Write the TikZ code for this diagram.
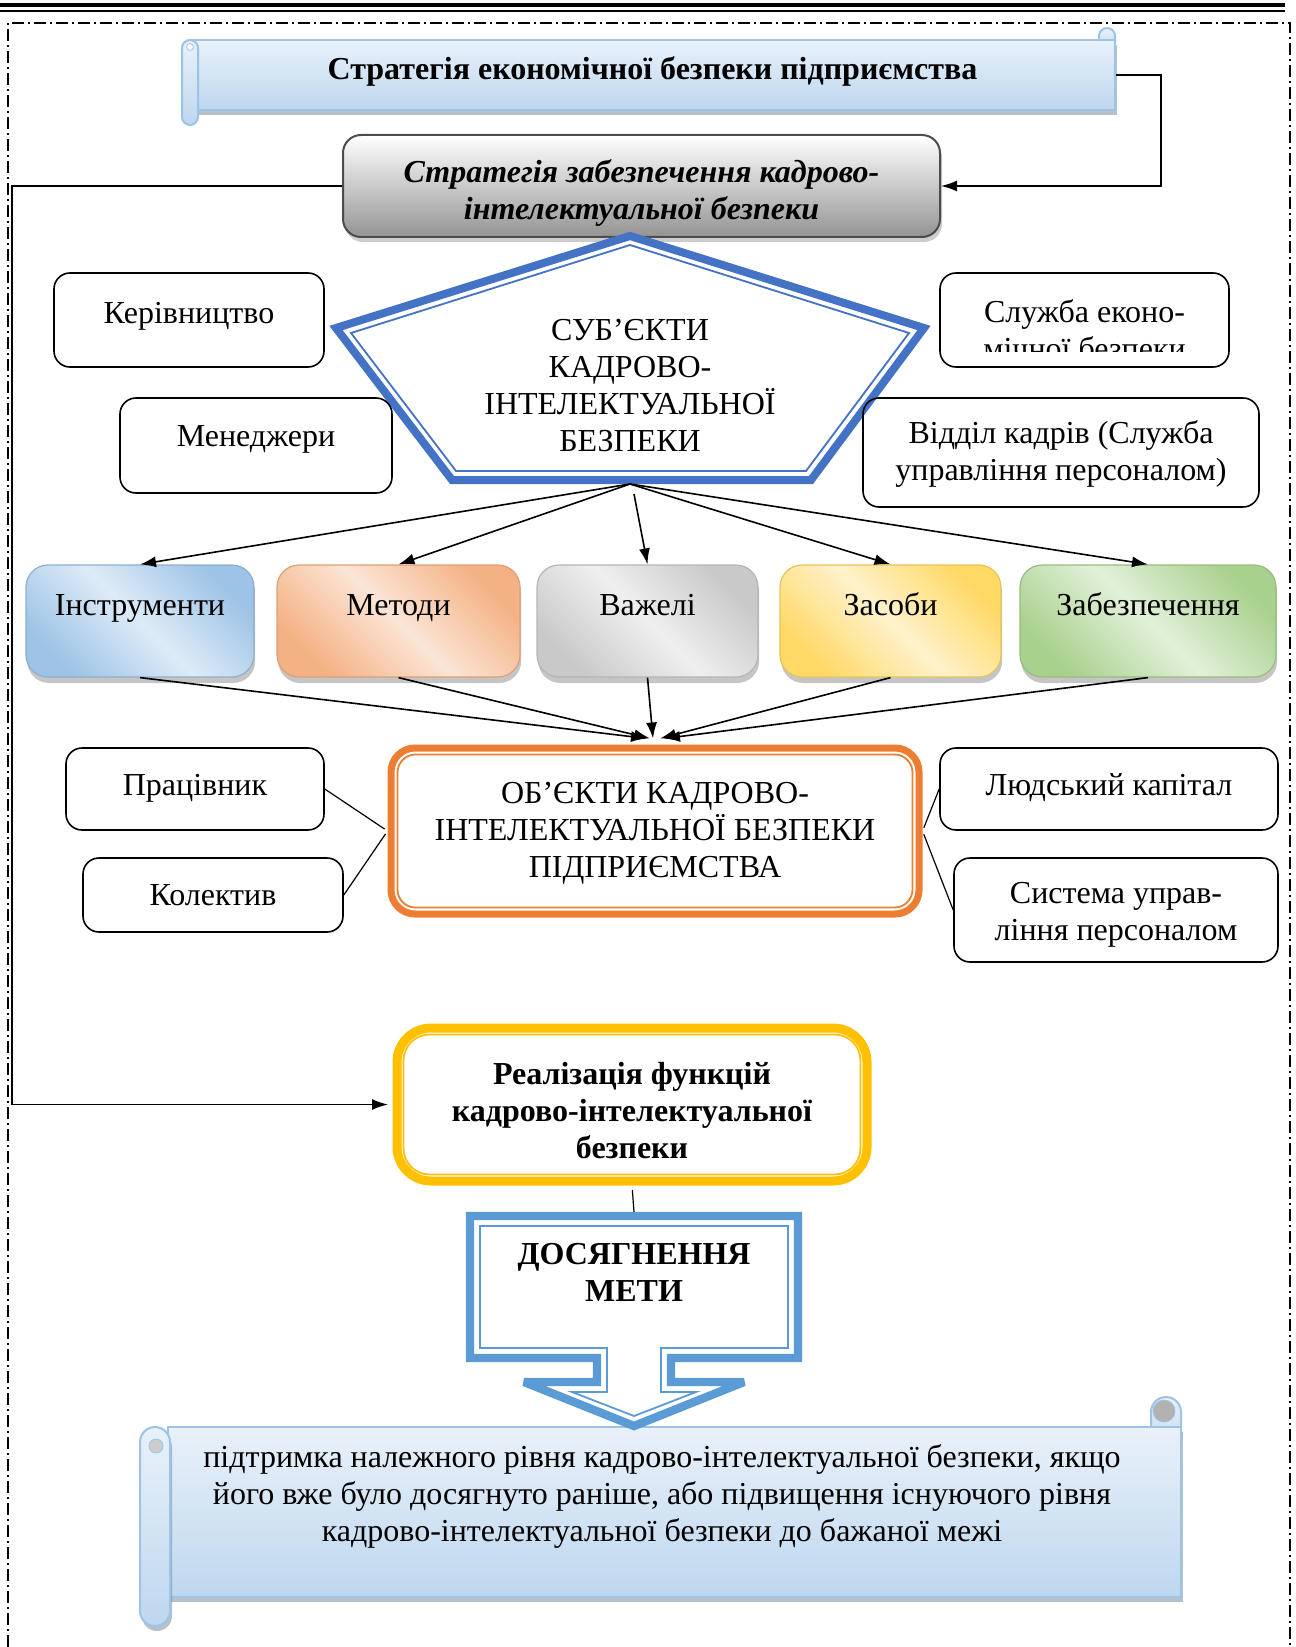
\documentclass[tikz,border=0pt]{standalone}
\usepackage{fontspec}
\setmainfont{Liberation Serif}
\usepackage{xcolor}
\usetikzlibrary{arrows.meta,positioning,shadows}

\definecolor{pentblue}{HTML}{4472C4}
\definecolor{goalblue}{HTML}{5B9BD5}
\definecolor{objorange}{HTML}{ED7D31}
\definecolor{realgold}{HTML}{FFC000}
\definecolor{scrline}{HTML}{9DC3E6}
\definecolor{scrtop}{HTML}{E9F1FA}
\definecolor{scrbot}{HTML}{BDD7EE}
\definecolor{bluedk}{HTML}{9DC3E6}
\definecolor{bluelt}{HTML}{DEEBF7}
\definecolor{orangedk}{HTML}{F4B183}
\definecolor{orangelt}{HTML}{FBE5D6}
\definecolor{graydk}{HTML}{C9C9C9}
\definecolor{graylt}{HTML}{EFEFEF}
\definecolor{yellowdk}{HTML}{FFD966}
\definecolor{yellowlt}{HTML}{FFF2CC}
\definecolor{greendk}{HTML}{A9D18E}
\definecolor{greenlt}{HTML}{E2F0D9}

\def\fs{\fontsize{16pt}{18.5pt}\selectfont}
\def\topgap#1{\rule{0pt}{#1}}   % extra room above the first line

\begin{document}
\begin{tikzpicture}[x=0.5pt, y=-0.5pt,
  txt/.style={font=\fs, align=center, inner sep=0pt},
  box/.style={txt, draw, line width=0.8pt, rounded corners=8pt, minimum width=#1},
  tool/.style={txt, draw=#1dk!90!black, line width=0.6pt, rounded corners=11pt,
    minimum height=56pt, text height=11pt, text depth=17pt,
    top color=#1dk, bottom color=#1dk, middle color=#1lt, shading angle=-45,
    drop shadow={shadow xshift=0.6pt, shadow yshift=-3pt, fill=black!45, opacity=0.5}},
  arrow/.style={-{Latex[length=8pt,width=5.5pt]}, line width=0.8pt},
  link/.style={line width=0.6pt},
  scroll/.style={draw=scrline, line width=1pt, top color=scrtop, bottom color=scrbot},
  scrshadow/.style={drop shadow={shadow xshift=1pt, shadow yshift=-2.5pt, fill=scrline!60!black, opacity=0.45}},
  dframe/.style={draw=#1, line width=4pt, line join=miter, fill=white},
  inframe/.style={draw=#1, line width=0.9pt, line join=miter},
]
\useasboundingbox (0,0) rectangle (1295,1647);

% page rules and dash-dot frame
\draw[line width=2pt] (0,5) -- (1285,5);
\draw[line width=1pt] (0,11) -- (1285,11);
\draw[line width=0.8pt, dash pattern=on 6pt off 2pt on 1pt off 2pt]
  (8,1647) -- (8,23) -- (1290,23) -- (1290,1647);

% top scroll
\draw[scroll, rounded corners=4pt] (1099,28) rectangle (1115,52);
\node[txt, scroll, scrshadow, font=\fs\bfseries, minimum width=462.5pt, minimum height=35pt,
      text height=11pt, text depth=6pt]
  (ecostrat) at (652.5,75) {Стратегія економічної безпеки підприємства};
\draw[scroll, rounded corners=4pt] (182,40) rectangle (198,125);
\draw[scrline, fill=white] (190,47) circle (3.5);

% strategy box
\node[txt, draw=black!70, line width=1pt, rounded corners=9pt, font=\fs\bfseries\itshape,
      minimum width=298.5pt, minimum height=51pt, top color=white, bottom color=black!42,
      drop shadow={shadow xshift=1pt, shadow yshift=-2.5pt, fill=black!40, opacity=0.5}]
  (hrstrat) at (641.5,186) {\topgap{18pt}Стратегія забезпечення кадрово-\\інтелектуальної безпеки};

\draw[arrow] (ecostrat.east) -- ++(45,0) |- (hrstrat.east);

% subjects pentagon
\draw[dframe=pentblue] (336,328) -- (630,236) -- (924,328) -- (811,480) -- (452,480) -- cycle;
\draw[inframe=pentblue] (351,333) -- (630,245) -- (909,333) -- (806,471) -- (456,471) -- cycle;
\node[txt] (subj) at (630,386) {СУБ’ЄКТИ\\КАДРОВО-\\ІНТЕЛЕКТУАЛЬНОЇ\\БЕЗПЕКИ};
\coordinate (apex) at (630,484);
\coordinate (apexlow) at (634,494);

\node[box=135pt, minimum height=47pt, text height=11pt, text depth=8pt] (mgmt) at (189,320) {Керівництво};
\node[box=136pt, minimum height=47.5pt, text height=11pt, text depth=10.5pt] (mngr) at (256,445.5) {Менеджери};
\node[box=144.5pt, minimum height=47pt] (secsrv) at (1084.5,320) {};
\begin{scope}
  \clip (940,273) rectangle (1229,352);
  \node[txt] (secsrvtxt) at (1084.5,330) {Служба еконо-\\мічної безпеки};
\end{scope}
\node[box=198pt, minimum height=54.5pt] (hrdept) at (1061,452.5) {\topgap{12.5pt}Відділ кадрів (Служба\\управління персоналом)};

% tools row
\node[tool=blue, minimum width=114pt] (instr) at (140,621) {Інструменти};
\node[tool=orange, minimum width=121.5pt] (meth) at (398.5,621) {Методи};
\node[tool=gray, minimum width=110.5pt] (lever) at (647.5,621) {Важелі};
\node[tool=yellow, minimum width=110.5pt] (means) at (890.5,621) {Засоби};
\node[tool=green, minimum width=128pt] (supp) at (1148,621) {Забезпечення};

\foreach \t in {instr,meth,means,supp}
  \draw[arrow] (apex) -- (\t.north);
\draw[arrow] (apexlow) -- (lever.north);

% objects
\node[txt, dframe=objorange, line width=3.5pt, rounded corners=12pt, minimum width=264pt, minimum height=83pt]
  (obj) at (655,831) {\topgap{12.5pt}ОБ’ЄКТИ КАДРОВО-\\ІНТЕЛЕКТУАЛЬНОЇ БЕЗПЕКИ\\ПІДПРИЄМСТВА};
\draw[inframe=objorange, rounded corners=9pt] ([shift={(10,10)}]obj.north west) rectangle ([shift={(-10,-10)}]obj.south east);

\foreach \t/\dx in {instr/-4, meth/-2.5, lever/-1, means/2.5, supp/4.5}
  \draw[arrow] (\t.south) -- ([xshift=\dx pt, yshift=3pt]obj.north);

\node[box=129pt, minimum height=41pt, text height=11pt, text depth=5pt] (worker) at (195,789) {Працівник};
\node[box=130pt, minimum height=37pt] (team) at (213,895) {Колектив};
\node[box=169pt, minimum height=41pt, text height=11pt, text depth=5pt] (hcap) at (1109,789) {Людський капітал};
\node[box=162pt, minimum height=52pt] (hrsys) at (1116,910) {\topgap{15.5pt}Система управ-\\ління персоналом};

\draw[link, shorten >=1.75pt] (worker.east) -- (obj.west);
\draw[link, shorten >=1.75pt] (team.east) -- (obj.west);
\draw[link, shorten >=1.75pt] (hcap.west) -- (obj.east);
\draw[link, shorten >=1.75pt] (hrsys.west) -- (obj.east);

% realisation
\node[txt, dframe=realgold, line width=4.5pt, rounded corners=17pt, minimum width=235pt, minimum height=76.5pt, font=\fs\bfseries]
  (real) at (632,1104.5) {\topgap{17pt}Реалізація функцій\\кадрово-інтелектуальної\\безпеки};
\draw[inframe=realgold, rounded corners=13pt] ([shift={(11,11)}]real.north west) rectangle ([shift={(-11,-11)}]real.south east);

\draw[arrow, shorten >=2.25pt] (hrstrat.west) -- ++(-330,0) |- (real.west);

% bottom scroll
\draw[scroll, rounded corners=7.5pt] (1151,1397) rectangle (1181,1452);
\draw[scrline, fill=black!30] (1164,1411) circle (11);
\node[scroll, scrshadow, inner sep=0pt, minimum width=506.5pt, minimum height=85pt] (resbody) at (674.5,1512) {};
\draw[scroll, scrshadow, rounded corners=7.5pt] (140,1427) rectangle (170,1626);
\draw[scrline, fill=black!20] (156,1446) circle (7);
\node[txt] (result) at (662,1496) {підтримка належного рівня кадрово-інтелектуальної безпеки, якщо\\його вже було досягнуто раніше, або підвищення існуючого рівня\\кадрово-інтелектуальної безпеки до бажаної межі};

% goal callout
\coordinate (goaltop) at (634,1212);
\draw[dframe=goalblue, line width=4.2pt, miter limit=2] (470,1216) -- (798,1216) -- (798,1358) -- (671,1358) -- (671,1382) -- (744,1382)
  -- (634,1426) -- (524,1382) -- (597,1382) -- (597,1358) -- (470,1358) -- cycle;
\draw[inframe=goalblue] (480,1226) -- (788,1226) -- (788,1348) -- (661,1348) -- (661,1392) -- (696,1392)
  -- (634,1416) -- (572,1392) -- (607,1392) -- (607,1348) -- (480,1348) -- cycle;
\node[txt, font=\fs\bfseries] (goal) at (634,1272) {ДОСЯГНЕННЯ\\МЕТИ};
\draw[link, shorten <=2.25pt] (real.south) -- (goaltop);
\end{tikzpicture}
\end{document}
